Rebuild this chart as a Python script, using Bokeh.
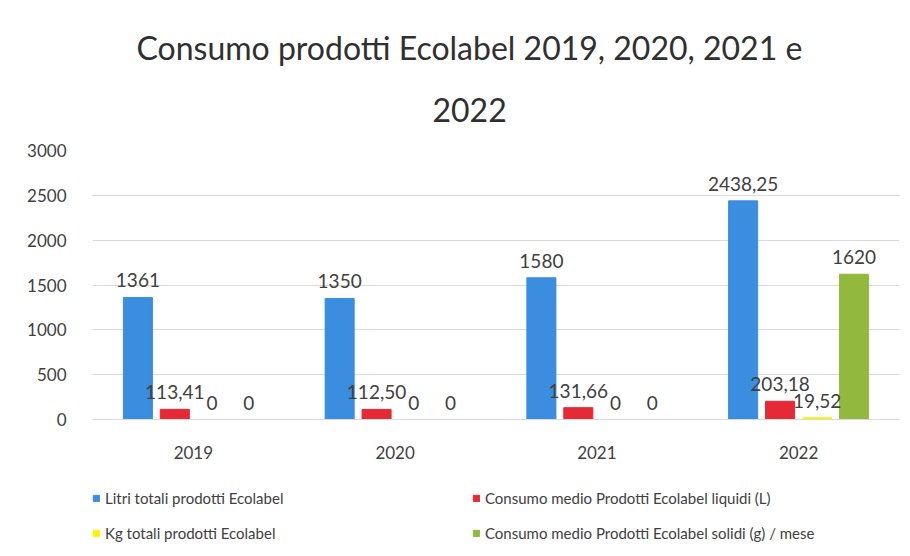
from bokeh.plotting import figure
from bokeh.models import (ColumnDataSource, FactorRange, Range1d, Legend, LegendItem,
                          Title, LabelSet)
from bokeh.core.properties import value
from bokeh.transform import dodge
from bokeh.embed import file_html
from bokeh.resources import INLINE

years = ["2019", "2020", "2021", "2022"]
litri_totali = [1361, 1350, 1580, 2438.25]
consumo_liquidi = [113.41, 112.50, 131.66, 203.18]
kg_totali = [0, 0, 0, 19.52]
consumo_solidi = [0, 0, 0, 1620]

series_names = [
    "Litri totali prodotti Ecolabel",
    "Consumo medio Prodotti Ecolabel liquidi (L)",
    "Kg totali prodotti Ecolabel",
    "Consumo medio Prodotti Ecolabel solidi (g) / mese",
]
series_values = [litri_totali, consumo_liquidi, kg_totali, consumo_solidi]
colors = ["#3A8DDF", "#E52A36", "#FFF200", "#93B83E"]
offsets = [-0.275, -0.092, 0.092, 0.275]
y_ticks = [0, 500, 1000, 1500, 2000, 2500, 3000]

FONT = "Lato"
TXT = "#404040"

# layout: frame spans from y=150 to the figure bottom; value 0 sits at y=419
H = 548
TOP = 150
ZERO_Y = 419
Y_MAX = 3000
Y_MIN = -Y_MAX * (H - ZERO_Y) / (ZERO_Y - TOP)


def fmt(v):
    if float(v) == int(v):
        return str(int(v))
    return ("%.2f" % v).replace(".", ",")


p = figure(width=900, height=H, x_range=FactorRange(*years), y_range=Range1d(Y_MIN, Y_MAX),
           output_backend="svg", toolbar_location=None,
           min_border_left=92, min_border_right=1, min_border_bottom=0, min_border_top=TOP)
p.title = None

renderers = {}
for name, vals, col, off in zip(series_names, series_values, colors, offsets):
    src = ColumnDataSource(dict(x=years, y=vals, t=[fmt(v) for v in vals]))
    r = p.vbar(x=dodge("x", off, range=p.x_range), top="y", width=0.144, source=src,
               fill_color=col, line_color=col)
    renderers[name] = r
    p.add_layout(LabelSet(x=dodge("x", off, range=p.x_range), y="y", text="t", source=src,
                          text_align="center", text_baseline="bottom", y_offset=10,
                          text_font=value(FONT), text_font_size="19px", text_color=TXT))

p.add_layout(Title(text="2022", align="left", text_font=FONT, text_font_size="32px",
                   text_font_style="normal", text_color="#303030", standoff=57,
                   offset=340), "above")
p.add_layout(Title(text="Consumo prodotti Ecolabel 2019, 2020, 2021 e", align="left",
                   text_font=FONT, text_font_size="32px", text_font_style="normal",
                   text_color="#303030", standoff=1, offset=44), "above")

p.yaxis.ticker = y_ticks
p.yaxis.axis_line_color = None
p.yaxis.major_tick_line_color = None
p.yaxis.minor_tick_line_color = None
p.yaxis.major_label_standoff = 20
p.yaxis.major_label_text_font = FONT
p.yaxis.major_label_text_font_size = "17px"
p.yaxis.major_label_text_color = TXT

p.xaxis.fixed_location = 0
p.xaxis.axis_line_color = "#D9D9D9"
p.xaxis.major_tick_line_color = None
p.xaxis.minor_tick_line_color = None
p.xaxis.major_label_standoff = 20
p.xaxis.major_label_text_font = FONT
p.xaxis.major_label_text_font_size = "17px"
p.xaxis.major_label_text_color = TXT

p.xgrid.grid_line_color = None
p.ygrid.grid_line_color = "#D9D9D9"
p.outline_line_color = None

legend_order = [series_names[0], series_names[2], series_names[1], series_names[3]]
legend = Legend(items=[LegendItem(label=n, renderers=[renderers[n]]) for n in legend_order],
                nrows=2, location=(0, 6), orientation="vertical",
                label_text_font=FONT, label_text_font_size="15px", label_text_color=TXT,
                glyph_width=8, glyph_height=8, label_standoff=5, label_width=350,
                label_height=18, spacing=17, margin=0, padding=0,
                border_line_color=None, background_fill_alpha=0)
p.add_layout(legend, "center")

open("out.html", "w").write(file_html(p, INLINE))
